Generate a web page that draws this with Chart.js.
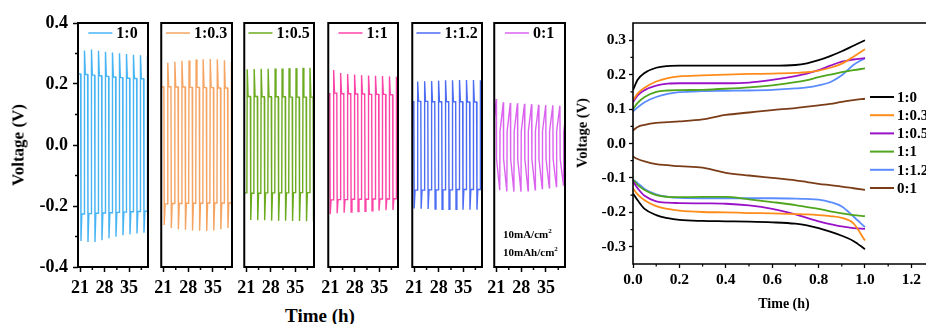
<!DOCTYPE html>
<html>
<head>
<meta charset="utf-8">
<script src="https://cdn.jsdelivr.net/npm/chart.js@4.4.0/dist/chart.umd.min.js"></script>
<style>
  html, body { margin: 0; padding: 0; background: #fff; overflow: hidden; }
  #wrap { position: relative; width: 926px; height: 324px; overflow: hidden; background: #fff; }
  canvas { position: absolute; top: 0; }
  .t { position: absolute; font-family: 'Liberation Serif', 'Times New Roman', serif; font-weight: bold; color: #000; white-space: nowrap; line-height: 1; }
  .t sup { font-size: 7px; position: relative; top: -1px; vertical-align: top; }
</style>
</head>
<body>
<div id="wrap">
  <canvas id="p0"></canvas><canvas id="p1"></canvas><canvas id="p2"></canvas>
  <canvas id="p3"></canvas><canvas id="p4"></canvas><canvas id="p5"></canvas>
  <canvas id="profile"></canvas>
  <div class="t" style="left:320px;top:315px;font-size:19px;transform:translate(-50%,-50%)">Time (h)</div>
  <div class="t" style="left:18px;top:145px;font-size:17px;transform:translate(-50%,-50%) rotate(-90deg)">Voltage (V)</div>
  <div class="t" style="left:784px;top:304px;font-size:14px;transform:translate(-50%,-50%)">Time (h)</div>
  <div class="t" style="left:582px;top:133px;font-size:14.5px;transform:translate(-50%,-50%) rotate(-90deg)">Voltage (V)</div>
  <div class="t" style="left:503px;top:229px;font-size:11px">10mA/cm<sup>2</sup></div>
  <div class="t" style="left:503px;top:247px;font-size:11px">10mAh/cm<sup>2</sup></div>
</div>
<script>
// ---------- cycling data (left panels) ----------
const ratios = ['1:0', '1:0.3', '1:0.5', '1:1', '1:1.2', '0:1'];

// time axis (h)
const cycleTicks = [21, 28, 35];
const cycleMinorTicks = [24.5, 31.5, 38.5];
const voltTicks = [-0.4, -0.2, 0.0, 0.2, 0.4];
const voltMinorTicks = [-0.3, -0.1, 0.1, 0.3];

// time of the first current reversal inside the window, and its polarity
const firstSwitch = [21.2, 21.2, 21.2, 20.9, 20.9];
const firstSign = [-1, -1, 1, -1, -1];
// voltage level before the first reversal
const leadLevel = [0.233, 0.190, -0.157, 0.168, 0.142];

// overpotential spike at the start of each charge half-cycle (V)
const chargePeaks = [
  [0.310, 0.313, 0.309, 0.306, 0.303, 0.301, 0.298, 0.296, 0.294, 0.292],
  [0.270, 0.273, 0.276, 0.277, 0.280, 0.281, 0.282, 0.281, 0.278, 0.272],
  [0.248, 0.249, 0.250, 0.250, 0.251, 0.251, 0.252, 0.252, 0.253, 0.253],
  [0.246, 0.236, 0.233, 0.231, 0.229, 0.228, 0.227, 0.226, 0.225, 0.224],
  [0.208, 0.209, 0.210, 0.211, 0.212, 0.212, 0.213, 0.213, 0.213, 0.212]
];
// plateau after each charge spike (V)
const chargePlateaus = [
  [0.231, 0.229, 0.227, 0.225, 0.223, 0.221, 0.219, 0.218, 0.217, 0.215],
  [0.191, 0.190, 0.190, 0.189, 0.189, 0.188, 0.188, 0.187, 0.187, 0.187],
  [0.159, 0.159, 0.158, 0.158, 0.158, 0.158, 0.157, 0.157, 0.157, 0.157],
  [0.170, 0.168, 0.168, 0.167, 0.167, 0.166, 0.166, 0.166, 0.165, 0.165],
  [0.143, 0.143, 0.142, 0.142, 0.142, 0.142, 0.142, 0.141, 0.141, 0.141]
];
// spike at the start of each discharge half-cycle (V)
const dischargeTroughs = [
  [-0.315, -0.318, -0.318, -0.312, -0.306, -0.301, -0.296, -0.293, -0.290, -0.288],
  [-0.262, -0.272, -0.276, -0.278, -0.280, -0.281, -0.282, -0.280, -0.276, -0.272],
  [-0.246, -0.247, -0.247, -0.248, -0.248, -0.248, -0.249, -0.249, -0.250, -0.250],
  [-0.227, -0.224, -0.222, -0.220, -0.218, -0.217, -0.216, -0.215, -0.214, -0.213],
  [-0.208, -0.209, -0.210, -0.210, -0.211, -0.211, -0.211, -0.212, -0.212, -0.212]
];
// plateau after each discharge spike (V)
const dischargePlateaus = [
  [-0.226, -0.225, -0.224, -0.223, -0.222, -0.221, -0.220, -0.219, -0.218, -0.217],
  [-0.193, -0.192, -0.192, -0.191, -0.191, -0.191, -0.190, -0.190, -0.190, -0.190],
  [-0.158, -0.158, -0.157, -0.157, -0.157, -0.157, -0.156, -0.156, -0.156, -0.156],
  [-0.180, -0.179, -0.179, -0.178, -0.178, -0.178, -0.177, -0.177, -0.177, -0.176],
  [-0.148, -0.148, -0.147, -0.147, -0.147, -0.147, -0.146, -0.146, -0.146, -0.146]
];

// 0:1 cell: sloping profile, value reached at the end of each half-cycle
const rampFirstSwitch = 20.0;
const rampStart = [0.045, -0.045];
const rampTops = [0.151, 0.140, 0.138, 0.137, 0.135, 0.134, 0.132, 0.131, 0.130, 0.129, 0.128];
const rampBottoms = [-0.148, -0.152, -0.153, -0.153, -0.150, -0.147, -0.143, -0.140, -0.136, -0.131];

// ---------- single-cycle profiles (right panel) ----------
const profileTime = [0, 0.02, 0.05, 0.1, 0.15, 0.2, 0.3, 0.4, 0.5, 0.6, 0.7, 0.75, 0.8, 0.85, 0.9, 0.95, 1.0];
const chargeProfiles = [
  [0.155, 0.185, 0.205, 0.220, 0.225, 0.226, 0.226, 0.226, 0.226, 0.226, 0.228, 0.233, 0.242, 0.254, 0.268, 0.284, 0.300],
  [0.125, 0.145, 0.162, 0.180, 0.190, 0.195, 0.198, 0.200, 0.202, 0.203, 0.205, 0.207, 0.212, 0.220, 0.232, 0.252, 0.274],
  [0.120, 0.140, 0.155, 0.168, 0.174, 0.175, 0.175, 0.175, 0.177, 0.185, 0.196, 0.203, 0.213, 0.226, 0.238, 0.244, 0.248],
  [0.100, 0.118, 0.135, 0.150, 0.154, 0.155, 0.156, 0.159, 0.163, 0.169, 0.178, 0.184, 0.193, 0.200, 0.207, 0.213, 0.218],
  [0.093, 0.105, 0.120, 0.135, 0.144, 0.149, 0.152, 0.153, 0.154, 0.156, 0.160, 0.163, 0.169, 0.178, 0.198, 0.228, 0.248],
  [0.038, 0.048, 0.054, 0.060, 0.062, 0.064, 0.070, 0.083, 0.090, 0.097, 0.103, 0.107, 0.111, 0.115, 0.121, 0.126, 0.130]
];
const dischargeProfiles = [
  [-0.145, -0.165, -0.190, -0.208, -0.217, -0.222, -0.225, -0.226, -0.227, -0.229, -0.233, -0.238, -0.246, -0.256, -0.268, -0.283, -0.307],
  [-0.130, -0.148, -0.165, -0.182, -0.190, -0.195, -0.199, -0.200, -0.202, -0.203, -0.205, -0.206, -0.208, -0.211, -0.216, -0.232, -0.282],
  [-0.110, -0.130, -0.152, -0.168, -0.172, -0.173, -0.174, -0.175, -0.180, -0.190, -0.206, -0.216, -0.226, -0.234, -0.241, -0.246, -0.248],
  [-0.105, -0.120, -0.135, -0.150, -0.155, -0.156, -0.155, -0.155, -0.162, -0.170, -0.179, -0.185, -0.190, -0.197, -0.203, -0.208, -0.211],
  [-0.105, -0.115, -0.132, -0.148, -0.155, -0.158, -0.159, -0.159, -0.159, -0.159, -0.160, -0.161, -0.163, -0.170, -0.183, -0.212, -0.243],
  [-0.038, -0.045, -0.052, -0.060, -0.063, -0.066, -0.070, -0.085, -0.093, -0.100, -0.107, -0.112, -0.117, -0.121, -0.125, -0.130, -0.135]
];
const profileTicksX = [0, 0.2, 0.4, 0.6, 0.8, 1.0, 1.2];
const profileMinorX = [0.1, 0.3, 0.5, 0.7, 0.9, 1.1];
const profileTicksY = [-0.3, -0.2, -0.1, 0.0, 0.1, 0.2, 0.3];
const profileMinorY = [-0.25, -0.15, -0.05, 0.05, 0.15, 0.25];

// ---------- styling / layout ----------
const SERIF = "'Liberation Serif', 'Times New Roman', serif";
const cycleColors = ['#47b4f4', '#f5a462', '#6caa20', '#fc45a7', '#4d6cf4', '#db63ef'];
const profileColors = ['#000000', '#ff8c1a', '#9a12c8', '#4fa61c', '#5b8cff', '#7a3d18'];
const X_MIN = 20.4, X_MAX = 40.4;
const frameLeft = [78, 160, 243, 327, 411, 493];
const frameRight = [148, 232, 314, 398, 482, 565];
const PANEL_TOP = 23, PANEL_BOTTOM = 267, PANEL_H = 300, SIDE_PAD = 12;

// ---------- waveform builders ----------
function squareWave(i) {
  const pts = [{ x: X_MIN, y: leadLevel[i] }];
  let prev = leadLevel[i], s = firstSign[i], nUp = 0, nDn = 0;
  for (let n = 0; firstSwitch[i] + n < X_MAX; n++) {
    const t = firstSwitch[i] + n;
    let spike, flat;
    if (s > 0) { spike = chargePeaks[i][nUp]; flat = chargePlateaus[i][nUp]; nUp++; }
    else { spike = dischargeTroughs[i][nDn]; flat = dischargePlateaus[i][nDn]; nDn++; }
    pts.push({ x: t - 0.05, y: prev }, { x: t + 0.05, y: spike }, { x: t + 0.3, y: flat });
    prev = flat;
    s = -s;
  }
  pts.push({ x: X_MAX, y: prev });
  return pts;
}
function rampWave() {
  const pts = [];
  let s = 1, nUp = 0, nDn = 0;
  for (let n = 0; rampFirstSwitch + n < X_MAX; n++) {
    const t = rampFirstSwitch + n;
    const end = s > 0 ? rampTops[nUp++] : rampBottoms[nDn++];
    pts.push({ x: t + 0.04, y: s > 0 ? rampStart[0] : rampStart[1] }, { x: t + 0.96, y: end });
    s = -s;
  }
  return pts;
}

// ---------- plugins ----------
function frameAndMinor(o) {
  return {
    id: 'frameAndMinor',
    afterDraw(chart) {
      const { ctx, chartArea: a, scales } = chart;
      ctx.save();
      ctx.strokeStyle = '#000';
      ctx.lineWidth = o.minorWidth;
      ctx.beginPath();
      (o.minorX || []).forEach(v => {
        const p = scales.x.getPixelForValue(v);
        ctx.moveTo(p, a.bottom); ctx.lineTo(p, a.bottom + o.minorLen);
      });
      (o.minorY || []).forEach(v => {
        const p = scales.y.getPixelForValue(v);
        ctx.moveTo(a.left, p); ctx.lineTo(a.left - o.minorLen, p);
      });
      ctx.stroke();
      ctx.lineWidth = o.frameWidth;
      ctx.lineCap = 'square';
      ctx.beginPath();
      if (o.right) {
        ctx.rect(a.left, a.top, a.right - a.left, a.bottom - a.top);
      } else {
        ctx.moveTo(a.right + 2, a.top); ctx.lineTo(a.left, a.top);
        ctx.lineTo(a.left, a.bottom); ctx.lineTo(a.right + 2, a.bottom);
      }
      ctx.stroke();
      ctx.restore();
    }
  };
}
const panelKey = {
  id: 'panelKey',
  afterDraw(chart) {
    const { ctx, chartArea: a } = chart;
    const ds = chart.data.datasets[0];
    ctx.save();
    ctx.font = `bold 16px ${SERIF}`;
    const w = ctx.measureText(ds.label).width;
    const x0 = (a.left + a.right) / 2 - (24 + 4 + w) / 2;
    const y = a.top + 10;
    ctx.strokeStyle = ds.borderColor; ctx.lineWidth = 1.5;
    ctx.beginPath(); ctx.moveTo(x0, y); ctx.lineTo(x0 + 24, y); ctx.stroke();
    ctx.fillStyle = '#000'; ctx.textBaseline = 'middle';
    ctx.fillText(ds.label, x0 + 28, y + 1);
    ctx.restore();
  }
};
const profileKey = {
  id: 'profileKey',
  afterDraw(chart) {
    const { ctx, chartArea: a } = chart;
    ctx.save();
    ctx.font = `bold 15px ${SERIF}`;
    ctx.textBaseline = 'middle';
    ratios.forEach((r, i) => {
      const y = a.top + 74 + 18.2 * i;
      const x = a.left + 237;
      ctx.strokeStyle = profileColors[i]; ctx.lineWidth = 2;
      ctx.beginPath(); ctx.moveTo(x, y); ctx.lineTo(x + 24, y); ctx.stroke();
      ctx.fillStyle = '#000';
      ctx.fillText(r, x + 27, y + 1);
    });
    ctx.restore();
  }
};

// ---------- left panels ----------
const tickFont = { family: SERIF, size: 18, weight: 'bold' };
ratios.forEach((r, i) => {
  const cv = document.getElementById('p' + i);
  const first = i === 0;
  const left = first ? 0 : frameLeft[i] - SIDE_PAD;
  const width = frameRight[i] + SIDE_PAD - left;
  cv.width = width; cv.height = PANEL_H;
  cv.style.left = left + 'px';
  cv.style.width = width + 'px'; cv.style.height = PANEL_H + 'px';
  const data = i === 5 ? rampWave() : squareWave(i);
  new Chart(cv, {
    type: 'line',
    data: { datasets: [{ label: r, data, borderColor: cycleColors[i], borderWidth: 1.4, pointRadius: 0, tension: 0, fill: false }] },
    options: {
      animation: false, responsive: false, devicePixelRatio: 1,
      layout: { padding: { top: PANEL_TOP, left: first ? 0 : SIDE_PAD, right: SIDE_PAD, bottom: 0 } },
      plugins: { legend: { display: false }, tooltip: { enabled: false } },
      scales: {
        x: {
          type: 'linear', min: X_MIN, max: X_MAX,
          afterFit: s => { s.height = PANEL_H - PANEL_BOTTOM; },
          afterBuildTicks: s => { s.ticks = cycleTicks.map(v => ({ value: v })); },
          grid: { display: true, drawOnChartArea: false, drawTicks: true, tickLength: 5, tickWidth: 1.5, tickColor: '#000' },
          border: { display: false },
          ticks: { font: tickFont, color: '#000', padding: 6, maxRotation: 0, autoSkip: false, callback: v => String(v) }
        },
        y: {
          type: 'linear', min: -0.4, max: 0.4, display: first,
          afterFit: s => { s.width = first ? frameLeft[0] : 0; },
          afterBuildTicks: s => { s.ticks = voltTicks.map(v => ({ value: v })); },
          grid: { display: true, drawOnChartArea: false, drawTicks: true, tickLength: 5, tickWidth: 1.5, tickColor: '#000' },
          border: { display: false },
          ticks: { font: tickFont, color: '#000', padding: 5, autoSkip: false, callback: v => v.toFixed(1) }
        }
      }
    },
    plugins: [frameAndMinor({ minorX: cycleMinorTicks, minorY: first ? voltMinorTicks : [], minorLen: 3, minorWidth: 1.5, frameWidth: 2, right: true }), panelKey]
  });
});

// ---------- right panel ----------
(function () {
  const cv = document.getElementById('profile');
  const left = 560, width = 366, height = 324;
  cv.width = width; cv.height = height;
  cv.style.left = left + 'px'; cv.style.width = width + 'px'; cv.style.height = height + 'px';
  const datasets = [];
  ratios.forEach((r, i) => {
    [chargeProfiles[i], dischargeProfiles[i]].forEach(vals => {
      datasets.push({
        label: r,
        data: profileTime.map((t, k) => ({ x: t, y: vals[k] })),
        borderColor: profileColors[i], borderWidth: 1.8, pointRadius: 0,
        cubicInterpolationMode: 'monotone', fill: false
      });
    });
  });
  const f = { family: SERIF, size: 15.5, weight: 'bold' };
  new Chart(cv, {
    type: 'line',
    data: { datasets },
    options: {
      animation: false, responsive: false, devicePixelRatio: 1,
      layout: { padding: { top: 23, left: 0, right: 0, bottom: 0 } },
      plugins: { legend: { display: false }, tooltip: { enabled: false } },
      scales: {
        x: {
          type: 'linear', min: 0, max: 1.263,
          afterFit: s => { s.height = 60; },
          afterBuildTicks: s => { s.ticks = profileTicksX.map(v => ({ value: v })); },
          grid: { display: true, drawOnChartArea: false, drawTicks: true, tickLength: 4, tickWidth: 1.3, tickColor: '#000' },
          border: { display: false },
          ticks: { font: f, color: '#000', padding: 3, maxRotation: 0, autoSkip: false, callback: v => v.toFixed(1) }
        },
        y: {
          type: 'linear', min: -0.35, max: 0.35,
          afterFit: s => { s.width = 73; },
          afterBuildTicks: s => { s.ticks = profileTicksY.map(v => ({ value: v })); },
          grid: { display: true, drawOnChartArea: false, drawTicks: true, tickLength: 4, tickWidth: 1.3, tickColor: '#000' },
          border: { display: false },
          ticks: { font: f, color: '#000', padding: 3, autoSkip: false, callback: v => v.toFixed(1) }
        }
      }
    },
    plugins: [frameAndMinor({ minorX: profileMinorX, minorY: profileMinorY, minorLen: 2.5, minorWidth: 1.2, frameWidth: 1.6, right: false }), profileKey]
  });
})();
</script>
</body>
</html>
